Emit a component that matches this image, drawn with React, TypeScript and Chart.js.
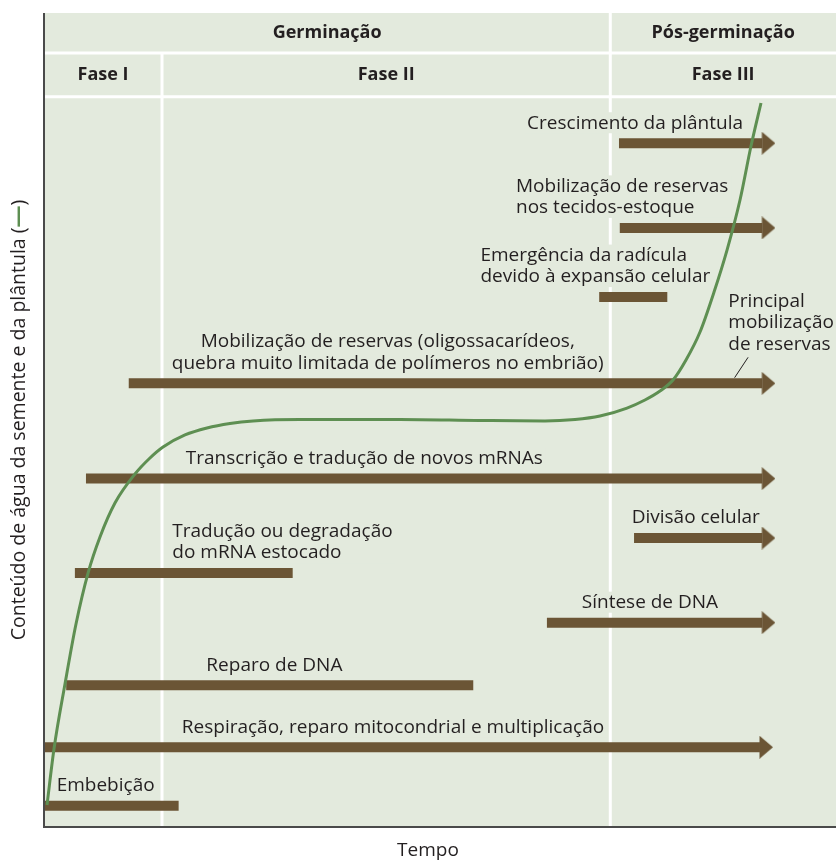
import React, { useEffect, useRef } from "react";
import { Chart, registerables } from "chart.js";

Chart.register(...registerables);

// ---------- data (time axis 0–100, water-content axis 0–100) ----------
const phaseBounds = [14.9, 71.5];
const stageLabels = ["Germinação", "Pós-germinação"];
const phaseLabels = ["Fase I", "Fase II", "Fase III"];
const headerEdges = [100, 95.1, 89.7];

const processNames: string[][] = [
  ["Crescimento da plântula"],
  ["Mobilização de reservas", "nos tecidos-estoque"],
  ["Emergência da radícula", "devido à expansão celular"],
  ["Mobilização de reservas (oligossacarídeos,", "quebra muito limitada de polímeros no embrião)"],
  ["Transcrição e tradução de novos mRNAs"],
  ["Divisão celular"],
  ["Tradução ou degradação", "do mRNA estocado"],
  ["Síntese de DNA"],
  ["Reparo de DNA"],
  ["Respiração, reparo mitocondrial e multiplicação"],
  ["Embebição"],
];
const processRow = [84.0, 73.6, 65.1, 54.5, 42.8, 35.5, 31.2, 25.1, 17.4, 9.8, 2.6];
const processStart = [72.6, 72.7, 70.1, 10.7, 5.3, 74.5, 3.9, 63.5, 2.8, 0, 0];
const processEnd = [90.7, 90.7, 78.7, 90.7, 90.7, 90.7, 31.4, 90.7, 54.2, 90.4, 17.0];
const processOngoing = [true, true, false, true, true, true, false, true, false, true, false];
const labelX = [61.0, 59.6, 55.1, 43.4, 17.9, 74.2, 16.2, 67.9, 20.5, 17.4, 1.6];
const labelAlign = ["left", "left", "left", "center", "left", "left", "left", "left", "left", "left", "left"];

const noteLines = ["Principal", "mobilização", "de reservas"];
const noteX = 86.4;
const noteTopY = 64.6;
const noteLeaderX = [88.9, 87.2];
const noteLeaderY = [57.7, 55.2];

const waterTime = [
  0.38, 1.26, 2.65, 4.04, 5.56, 7.07, 8.96, 11.49, 13.38, 15.03, 17.8, 20.58, 23.48, 26.39,
  32.32, 44.95, 55.05, 63.26, 67.05, 70.2, 73.61, 75.88, 77.78, 79.42, 81.06, 82.83, 84.6,
  86.24, 87.88, 89.27, 90.53,
];
const waterContent = [
  2.7, 9.58, 17.57, 24.94, 31.2, 35.63, 39.8, 43.37, 45.33, 46.68, 48.16, 49.02, 49.57, 49.88,
  50.06, 50.06, 49.94, 49.88, 50.06, 50.49, 51.47, 52.46, 53.56, 54.91, 57.37, 60.81, 65.72,
  70.88, 77.03, 83.66, 88.94,
];

const xTitle = "Tempo";
const yTitle = "Conteúdo de água da semente e da plântula (";

// ---------- styles ----------
const BG = "#e3eadd";
const BAR = "#6b5535";
const GREEN = "#5e8f52";
const TEXT = "#231f20";
const FONT = "'Open Sans', 'Noto Sans', sans-serif";
const LABEL_SIZE = 19;
const LINE_H = 21.5;

function makeArrow(): HTMLCanvasElement {
  const c = document.createElement("canvas");
  c.width = 26;
  c.height = 23;
  const g = c.getContext("2d")!;
  g.fillStyle = BAR;
  g.beginPath();
  g.moveTo(12.5, 0);
  g.lineTo(26, 11.5);
  g.lineTo(12.5, 23);
  g.closePath();
  g.fill();
  return c;
}

const backdrop = {
  id: "backdrop",
  beforeDatasetsDraw(chart: any) {
    const { ctx, chartArea: a, scales } = chart;
    const xs = scales.x;
    const ys = scales.y;
    ctx.save();
    ctx.fillStyle = BG;
    ctx.fillRect(a.left, a.top, a.right - a.left, a.bottom - a.top);

    ctx.strokeStyle = "#ffffff";
    ctx.lineWidth = 3;
    const y1 = ys.getPixelForValue(headerEdges[1]);
    const y2 = ys.getPixelForValue(headerEdges[2]);
    ctx.beginPath();
    ctx.moveTo(a.left, y1);
    ctx.lineTo(a.right, y1);
    ctx.moveTo(a.left, y2);
    ctx.lineTo(a.right, y2);
    const p1 = xs.getPixelForValue(phaseBounds[0]);
    const p2 = xs.getPixelForValue(phaseBounds[1]);
    ctx.moveTo(p1, y1);
    ctx.lineTo(p1, a.bottom);
    ctx.moveTo(p2, a.top);
    ctx.lineTo(p2, a.bottom);
    ctx.stroke();

    ctx.fillStyle = TEXT;
    ctx.textAlign = "center";
    ctx.textBaseline = "middle";
    ctx.font = `bold 18px ${FONT}`;
    const r1 = (ys.getPixelForValue(headerEdges[0]) + y1) / 2;
    const r2 = (y1 + y2) / 2;
    ctx.fillText(stageLabels[0], (a.left + p2) / 2, r1);
    ctx.fillText(stageLabels[1], (p2 + a.right) / 2, r1);
    ctx.fillText(phaseLabels[0], (a.left + p1) / 2, r2);
    ctx.fillText(phaseLabels[1], (p1 + p2) / 2, r2);
    ctx.fillText(phaseLabels[2], (p2 + a.right) / 2, r2);

    ctx.font = `${LABEL_SIZE}px ${FONT}`;
    ctx.textBaseline = "middle";
    processNames.forEach((lines, i) => {
      const by = ys.getPixelForValue(processRow[i]);
      const lx = xs.getPixelForValue(labelX[i]);
      const lastMid = by - 20;
      const n = lines.length;
      const w = Math.max(...lines.map((l) => ctx.measureText(l).width));
      const left = labelAlign[i] === "center" ? lx - w / 2 : lx;
      ctx.fillStyle = BG;
      ctx.fillRect(left - 3, lastMid - (n - 1) * LINE_H - 11, w + 6, (n - 1) * LINE_H + 21);
      ctx.fillStyle = TEXT;
      ctx.textAlign = labelAlign[i] as CanvasTextAlign;
      lines.forEach((l, k) => {
        ctx.fillText(l, lx, lastMid - (n - 1 - k) * LINE_H);
      });
    });

    ctx.textAlign = "left";
    const nx = xs.getPixelForValue(noteX);
    const ny = ys.getPixelForValue(noteTopY);
    noteLines.forEach((l, k) => ctx.fillText(l, nx, ny + k * LINE_H));
    ctx.strokeStyle = TEXT;
    ctx.lineWidth = 1;
    ctx.beginPath();
    ctx.moveTo(xs.getPixelForValue(noteLeaderX[0]), ys.getPixelForValue(noteLeaderY[0]));
    ctx.lineTo(xs.getPixelForValue(noteLeaderX[1]), ys.getPixelForValue(noteLeaderY[1]));
    ctx.stroke();
    ctx.restore();
  },
  afterDatasetsDraw(chart: any) {
    const { ctx, chartArea: a } = chart;
    ctx.save();
    ctx.strokeStyle = "#4a4a4a";
    ctx.lineWidth = 2;
    ctx.beginPath();
    ctx.moveTo(a.left, a.top);
    ctx.lineTo(a.left, a.bottom);
    ctx.lineTo(a.right, a.bottom);
    ctx.stroke();

    ctx.fillStyle = TEXT;
    ctx.font = `19px ${FONT}`;
    ctx.textAlign = "center";
    ctx.textBaseline = "middle";
    ctx.fillText(xTitle, 428, a.bottom + 24);

    ctx.translate(19, (a.top + a.bottom) / 2);
    ctx.rotate(-Math.PI / 2);
    ctx.font = `19.5px ${FONT}`;
    const w1 = ctx.measureText(yTitle).width;
    ctx.font = `bold 22px ${FONT}`;
    const wd = ctx.measureText("—").width;
    ctx.font = `19.5px ${FONT}`;
    const w3 = ctx.measureText(")").width;
    const total = w1 + wd + w3;
    let x = -total / 2;
    ctx.textAlign = "left";
    ctx.fillText(yTitle, x, 0);
    x += w1;
    ctx.fillStyle = GREEN;
    ctx.font = `bold 22px ${FONT}`;
    ctx.fillText("—", x, 0);
    x += wd;
    ctx.fillStyle = TEXT;
    ctx.font = `19.5px ${FONT}`;
    ctx.fillText(")", x, 0);
    ctx.restore();
  },
};

export default function App() {
  const ref = useRef<HTMLCanvasElement>(null);
  useEffect(() => {
    document.body.style.margin = "0";
    const arrow = makeArrow();
    const curve = {
      label: "water",
      data: waterTime.map((t, i) => ({ x: t, y: waterContent[i] })),
      borderColor: GREEN,
      borderWidth: 3,
      pointRadius: 0,
      cubicInterpolationMode: "monotone" as const,
      fill: false,
    };
    const bars = processNames.map((n, i) => ({
      label: n.join(" "),
      data: [
        { x: processStart[i], y: processRow[i] },
        { x: processEnd[i], y: processRow[i] },
      ],
      borderColor: BAR,
      backgroundColor: BAR,
      borderWidth: 10,
      borderCapStyle: "butt" as const,
      tension: 0,
      pointRadius: [0, processOngoing[i] ? 5 : 0],
      pointHoverRadius: 0,
      pointStyle: arrow as any,
      fill: false,
    }));
    const chart = new Chart(ref.current!, {
      type: "line",
      data: { datasets: [curve, ...bars] as any },
      options: {
        animation: false,
        responsive: false,
        devicePixelRatio: 1,
        layout: { autoPadding: false, padding: { left: 44, right: 0, top: 13, bottom: 33 } },
        scales: {
          x: { type: "linear", min: 0, max: 100, display: false },
          y: { type: "linear", min: 0, max: 100, display: false },
        },
        plugins: { legend: { display: false }, tooltip: { enabled: false } },
        events: [],
      },
      plugins: [backdrop],
    });
    return () => chart.destroy();
  }, []);
  return (
    <div style={{ width: 836, height: 860 }}>
      <canvas ref={ref} width={836} height={860} style={{ display: "block" }} />
    </div>
  );
}
